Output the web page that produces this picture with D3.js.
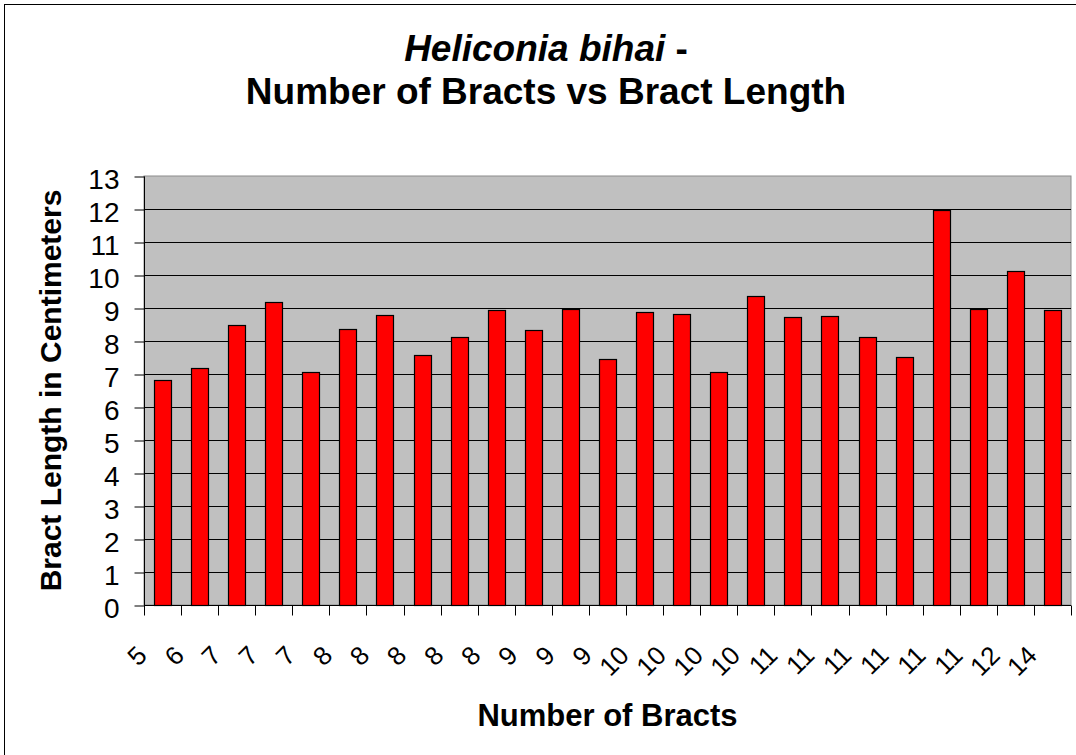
<!DOCTYPE html>
<html>
<head>
<meta charset="utf-8">
<script src="https://cdn.jsdelivr.net/npm/d3@7"></script>
<style>
  html, body { margin: 0; padding: 0; background: #fff; }
  text { font-family: Arial, "Liberation Sans", sans-serif; }
</style>
</head>
<body>
<div id="chart"></div>
<script>
// data
const bractCounts = ["5","6","7","7","7","8","8","8","8","8","9","9","9",
                     "10","10","10","10","11","11","11","11","11","11","12","14"];
const bractLengths = [6.82, 7.18, 8.50, 9.18, 7.06, 8.37, 8.80, 7.57, 8.12, 8.93,
                      8.33, 8.98, 7.44, 8.89, 8.81, 7.06, 9.35, 8.72, 8.77, 8.12,
                      7.52, 11.96, 8.97, 10.13, 8.93];
const yTicks = [0,1,2,3,4,5,6,7,8,9,10,11,12,13];

const cfg = {
  width: 1076,
  height: 755,
  margin: { left: 144, right: 5, top: 176, bottom: 150 }
};

make_chart("#chart", cfg);

function make_chart(where, cfg) {
  const svg = d3.select(where)
    .append("svg")
    .attr("width", cfg.width)
    .attr("height", cfg.height);

  // outer chart frame
  svg.append("rect")
    .attr("x", 4.5).attr("y", 4.5)
    .attr("width", cfg.width + 10).attr("height", cfg.height + 10)
    .style("fill", "#fff")
    .style("stroke", "#000");

  const x0 = cfg.margin.left, x1 = cfg.width - cfg.margin.right;
  const y0 = cfg.height - cfg.margin.bottom, y1 = cfg.margin.top;

  // indexes as keys since the labels repeat
  const xScale = d3.scaleBand(d3.range(bractCounts.length), [x0, x1]).padding(0);
  const yScale = d3.scaleLinear([0, 13], [y0, y1]);

  // plot background
  svg.append("rect")
    .attr("x", x0).attr("y", y1)
    .attr("width", x1 - x0).attr("height", y0 - y1)
    .style("fill", "#c0c0c0")
    .style("stroke", "#8c8c8c");

  // grid lines
  svg.append("g")
    .attr("class", "grid")
    .selectAll("line")
    .data(yTicks.filter(d => d > 0 && d < 13))
    .join("line")
    .attr("x1", x0).attr("x2", x1)
    .attr("y1", d => Math.round(yScale(d)) + 0.5)
    .attr("y2", d => Math.round(yScale(d)) + 0.5)
    .style("stroke", "#000")
    .style("stroke-width", 1);

  // bars
  const bw = xScale.bandwidth() * 0.46;
  svg.append("g")
    .attr("class", "bars")
    .selectAll("rect")
    .data(bractLengths)
    .join("rect")
    .attr("x", (d, i) => Math.round(xScale(i) + (xScale.bandwidth() - bw) / 2) + 0.5)
    .attr("y", d => Math.round(yScale(d)) + 0.5)
    .attr("width", Math.round(bw))
    .attr("height", d => Math.round(yScale(0)) - Math.round(yScale(d)))
    .style("fill", "#ff0000")
    .style("stroke", "#000")
    .style("stroke-width", 1.2);

  // y axis
  const yAxis = d3.axisLeft(yScale).tickValues(yTicks).tickSize(10).tickPadding(15);
  const gy = svg.append("g")
    .attr("class", "y-axis")
    .attr("transform", `translate(${x0 + 0.5}, 0.5)`)
    .call(yAxis);
  gy.select(".domain").attr("d", `M0,${y1}V${y0}`).style("stroke", "#000");
  gy.selectAll("text")
    .style("font-size", "28px")
    .style("fill", "#000")
    .attr("dy", "0.42em");

  // x axis, ticks on the category boundaries
  const gx = svg.append("g")
    .attr("class", "x-axis")
    .attr("transform", `translate(0, ${y0 + 0.5})`);
  gx.append("line")
    .attr("x1", x0).attr("x2", x1)
    .style("stroke", "#000");
  gx.selectAll(".tick")
    .data(d3.range(bractCounts.length + 1))
    .join("line")
    .attr("class", "tick")
    .attr("x1", i => Math.round(i < bractCounts.length ? xScale(i) : x1) + 0.5)
    .attr("x2", i => Math.round(i < bractCounts.length ? xScale(i) : x1) + 0.5)
    .attr("y1", 0).attr("y2", 10)
    .style("stroke", "#000");

  // rotated category labels
  svg.append("g")
    .attr("class", "x-labels")
    .selectAll("text")
    .data(bractCounts)
    .join("text")
    .attr("transform", (d, i) => {
      const cx = xScale(i) + xScale.bandwidth() / 2 - 14;
      return `translate(${cx}, 657) rotate(-45)`;
    })
    .attr("text-anchor", "end")
    .style("font-size", "26px")
    .text(d => d);

  // title
  const title = svg.append("text")
    .attr("x", 546)
    .attr("text-anchor", "middle")
    .style("font-weight", "bold")
    .style("font-size", "37px");
  title.append("tspan").attr("x", 546).attr("y", 61)
    .style("font-style", "italic").text("Heliconia bihai");
  title.append("tspan").text(" -");
  title.append("tspan").attr("x", 546).attr("y", 104)
    .text("Number of Bracts vs Bract Length");

  // axis titles
  svg.append("text")
    .attr("x", (x0 + x1) / 2).attr("y", 726)
    .attr("text-anchor", "middle")
    .style("font-weight", "bold")
    .style("font-size", "31px")
    .text("Number of Bracts");

  svg.append("text")
    .attr("transform", `translate(61, ${(y0 + y1) / 2}) rotate(-90)`)
    .attr("text-anchor", "middle")
    .style("font-weight", "bold")
    .style("font-size", "30px")
    .text("Bract Length in Centimeters");
}
</script>
</body>
</html>
